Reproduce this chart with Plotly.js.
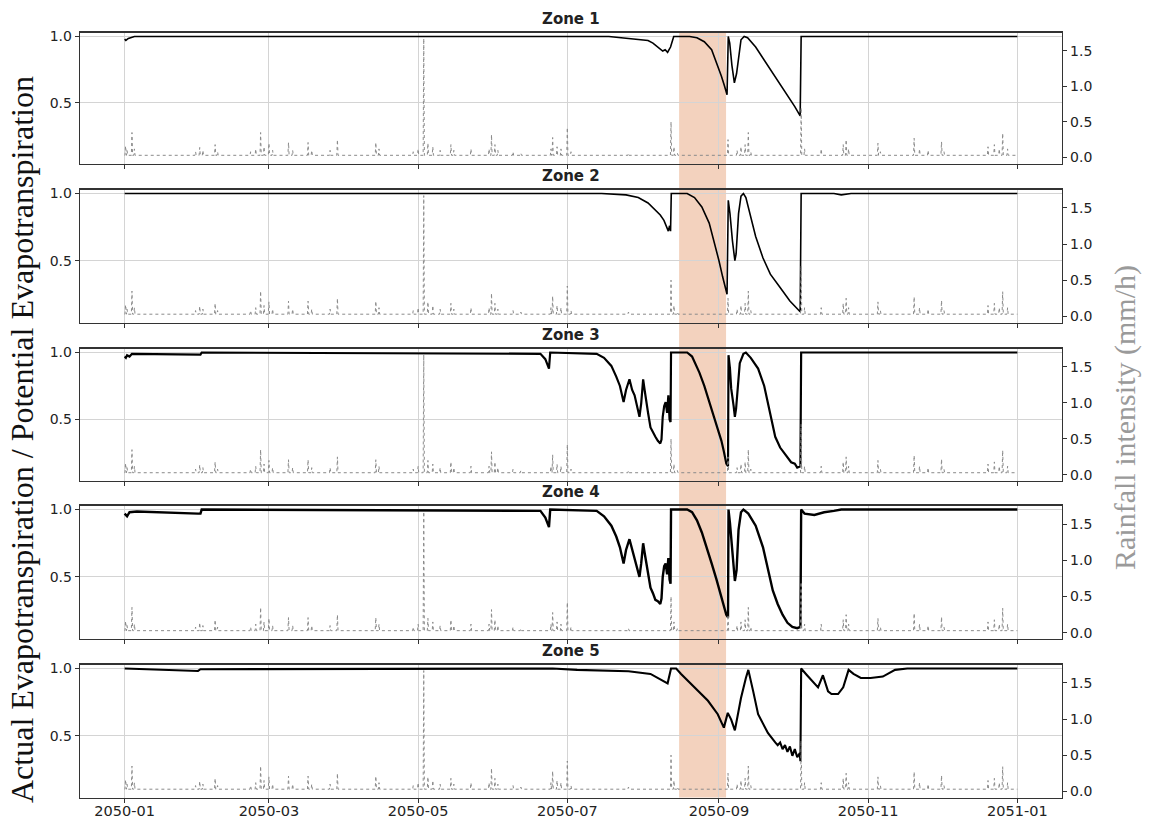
<!DOCTYPE html>
<html>
<head>
<meta charset="utf-8">
<script src="https://cdn.plot.ly/plotly-3.0.1.min.js"></script>
<style>html,body{margin:0;padding:0;background:#fff;}#chart{width:1149px;height:823px;}</style>
</head>
<body>
<div id="chart"></div>
<script>
// ---------- DATA (x values are days since 2050-01-01) ----------
const zoneNames = ["Zone 1", "Zone 2", "Zone 3", "Zone 4", "Zone 5"];
const tickLabels = ["2050-01", "2050-03", "2050-05", "2050-07", "2050-09", "2050-11", "2051-01"];
const tickDays = [0, 59, 120, 181, 243, 304, 365];

const zone1Days = [0, 0.5, 1.5, 2.5, 4, 60, 198, 203, 206, 211, 214, 216, 218, 220, 221, 222, 222.6, 223.2, 224.5, 231, 234, 237, 240, 242.5, 244, 245.2, 246.3, 246.8, 247.4, 248.3, 249.3, 250.2, 251, 252, 253.3, 254.7, 258, 263, 267, 271, 274, 276.2, 276.6, 300, 365];
const zone1Vals = [0.98, 0.97, 0.985, 0.99, 1.0, 1.0, 1.0, 0.99, 0.985, 0.975, 0.97, 0.95, 0.92, 0.89, 0.9, 0.88, 0.9, 0.92, 1.0, 1.0, 0.99, 0.96, 0.9, 0.78, 0.7, 0.63, 0.56, 1.0, 0.95, 0.78, 0.65, 0.72, 0.85, 0.975, 1.0, 0.99, 0.92, 0.78, 0.66, 0.55, 0.47, 0.4, 1.0, 1.0, 1.0];

const zone2Days = [0, 195, 205, 210, 214, 217, 219, 220.5, 221.5, 222.3, 222.8, 223.2, 223.5, 230, 233, 236, 239, 241, 243, 244.5, 245.5, 246.3, 246.8, 247.5, 248.5, 249.5, 250, 251, 252, 253, 254, 256, 258, 261, 264, 268, 272, 276.2, 276.6, 290, 293, 297, 365];
const zone2Vals = [1.0, 1.0, 0.99, 0.97, 0.93, 0.88, 0.84, 0.8, 0.75, 0.72, 0.76, 0.72, 1.0, 1.0, 0.97, 0.9, 0.78, 0.65, 0.5, 0.38, 0.3, 0.25, 0.95, 0.85, 0.65, 0.5, 0.55, 0.85, 0.98, 1.0, 0.97, 0.82, 0.68, 0.52, 0.4, 0.3, 0.2, 0.12, 1.0, 1.0, 0.99, 1.0, 1.0];

const zone3Days = [0, 0.5, 1, 2, 3, 5, 31, 31.5, 170, 172, 173.5, 174, 193, 196, 199, 201, 202.5, 204, 205, 206.4, 207.5, 208.5, 209.5, 210.5, 211.2, 212, 212.6, 213.3, 214, 215, 216, 217, 218, 219, 219.5, 220, 220.6, 221.2, 221.8, 222.3, 222.8, 223.2, 223.4, 230, 232, 233, 235, 237, 239, 241, 242.5, 244, 245, 246, 246.7, 246.9, 247.5, 248, 249, 249.5, 250, 251, 251.5, 253, 254, 256, 259, 261.5, 264, 266, 268, 270, 271, 272.5, 274, 275, 276.3, 276.6, 365];
const zone3Vals = [0.97, 0.96, 0.98, 0.97, 0.99, 0.99, 0.985, 1.0, 0.99, 0.95, 0.88, 1.0, 0.99, 0.96, 0.9, 0.82, 0.75, 0.63, 0.72, 0.8, 0.72, 0.68, 0.6, 0.52, 0.62, 0.8, 0.72, 0.65, 0.55, 0.44, 0.4, 0.37, 0.34, 0.32, 0.35, 0.52, 0.6, 0.63, 0.55, 0.68, 0.5, 0.48, 1.0, 1.0, 0.97, 0.93, 0.85, 0.75, 0.63, 0.52, 0.43, 0.34, 0.26, 0.17, 0.15, 0.98, 0.88, 0.73, 0.6, 0.52, 0.58, 0.8, 0.92, 0.99, 1.0, 0.96, 0.88, 0.75, 0.55, 0.37, 0.29, 0.24, 0.21, 0.18, 0.17, 0.14, 0.15, 1.0, 1.0];

const zone4Days = [0, 1, 2, 5, 30, 31, 31.5, 170, 172, 173.5, 174, 193, 196, 199, 201, 202.5, 204, 205, 206.4, 207.5, 208.5, 209.5, 210.5, 211.2, 212, 212.6, 213.3, 214, 215, 216, 217, 218, 219, 219.5, 220, 220.6, 221.2, 221.8, 222.3, 222.8, 223.2, 223.4, 230, 232, 234, 236, 238, 240, 242, 243.5, 245, 246, 246.7, 246.9, 247.5, 248.5, 249.5, 250.2, 251, 252, 253, 255, 258, 261, 263, 265, 267, 269, 271, 273, 275, 276.3, 276.6, 278, 282, 286, 290, 293, 365];
const zone4Vals = [0.97, 0.95, 0.98, 0.985, 0.97, 0.97, 1.0, 0.99, 0.94, 0.87, 1.0, 0.99, 0.95, 0.88, 0.8, 0.72, 0.6, 0.7, 0.78, 0.7, 0.64, 0.56, 0.5, 0.6, 0.75, 0.68, 0.6, 0.5, 0.42, 0.38, 0.33, 0.32, 0.3, 0.34, 0.5, 0.58, 0.6, 0.52, 0.64, 0.48, 0.45, 1.0, 1.0, 0.98, 0.92, 0.83, 0.72, 0.6, 0.48, 0.38, 0.28, 0.22, 0.2, 1.0, 0.9, 0.7, 0.47, 0.55, 0.85, 0.98, 1.0, 0.97, 0.88, 0.72, 0.55, 0.4, 0.3, 0.22, 0.16, 0.13, 0.12, 0.13, 1.0, 0.97, 0.96, 0.98, 0.99, 1.0, 1.0];

const zone5Days = [0, 20, 30, 31, 60, 120, 175, 185, 206, 215, 219, 222, 223.4, 225.5, 227.5, 233, 238.5, 242.5, 245, 246.6, 248, 249.5, 252, 254, 255, 257, 259, 263, 265, 266, 267, 268, 269, 270, 271, 272, 273, 274, 275, 276, 276.3, 276.6, 279, 283.5, 285.5, 287.6, 289, 291.7, 293.8, 296, 298, 301, 305, 310, 315, 320, 365];
const zone5Vals = [1.0, 0.99, 0.982, 0.995, 0.997, 1.0, 1.0, 0.99, 0.98, 0.96, 0.92, 0.89, 1.0, 1.0, 0.96, 0.86, 0.76, 0.66, 0.56, 0.67, 0.62, 0.54, 0.78, 0.93, 0.99, 0.83, 0.66, 0.52, 0.47, 0.45, 0.43, 0.45, 0.4, 0.43, 0.38, 0.42, 0.35, 0.4, 0.34, 0.37, 0.31, 1.0, 0.95, 0.86, 0.95, 0.83, 0.81, 0.81, 0.86, 0.99, 0.96, 0.93, 0.93, 0.94, 0.99, 1.0, 1.0];

// rainfall spikes (mm/h), same series drawn in every zone
const rainBase = 0.03;
const rainDays = [0.4, 1, 3, 4, 29, 30.7, 32, 37, 38, 51.5, 53.6, 55.6, 57, 59, 60.5, 67, 68.7, 75, 76.5, 84, 87, 102.7, 104, 118, 120, 122.3, 124, 126, 129, 133.4, 134.6, 141.6, 149, 150, 151.4, 152.6, 158.8, 162, 174.3, 175, 176.8, 178.4, 181, 182.5, 206, 223.4, 224.6, 226, 246.7, 250.4, 252, 253.7, 255, 256, 276.6, 278, 284.8, 293.8, 295, 296, 308, 309, 322.8, 325, 328.5, 334, 335, 353, 355.6, 357.6, 359, 361];
const rainVals = [0.16, 0.1, 0.35, 0.12, 0.08, 0.14, 0.1, 0.18, 0.08, 0.08, 0.12, 0.35, 0.15, 0.2, 0.1, 0.21, 0.1, 0.21, 0.1, 0.1, 0.25, 0.21, 0.12, 0.08, 0.12, 1.67, 0.2, 0.15, 0.1, 0.18, 0.1, 0.12, 0.12, 0.32, 0.18, 0.1, 0.08, 0.06, 0.12, 0.28, 0.15, 0.12, 0.42, 0.08, 0.06, 0.5, 0.15, 0.06, 0.25, 0.1, 0.15, 0.18, 0.35, 0.08, 0.7, 0.12, 0.12, 0.18, 0.25, 0.12, 0.2, 0.08, 0.27, 0.12, 0.1, 0.22, 0.08, 0.15, 0.18, 0.12, 0.34, 0.12];

const shadeStartDay = 226.7, shadeEndDay = 245.9;

// ---------- BUILD ----------
const T0 = Date.UTC(2050, 0, 1), DAY = 86400000;
const toMs = d => T0 + d * DAY;

const rx = [toMs(0)], ry = [rainBase];
rainDays.forEach((d, i) => {
  rx.push(toMs(d - 0.25), toMs(d), toMs(d + 0.25));
  ry.push(rainBase, rainVals[i], rainBase);
});
rx.push(toMs(365)); ry.push(rainBase);

const zoneDays = [zone1Days, zone2Days, zone3Days, zone4Days, zone5Days];
const zoneVals = [zone1Vals, zone2Vals, zone3Vals, zone4Vals, zone5Vals];
const lineWidths = [1.6, 1.6, 2.2, 2.4, 2.1];

const H = 823;
const panelPx = [[32.5, 163.5], [189.5, 322.5], [348.5, 481], [505.5, 639], [664.5, 797.5]];

const traces = [];
const layout = {
  width: 1149, height: 823,
  margin: {l: 80, r: 87, t: 0, b: 0},
  paper_bgcolor: '#ffffff', plot_bgcolor: 'rgba(0,0,0,0)',
  showlegend: false,
  font: {family: 'DejaVu Sans', size: 14, color: '#222'},
  shapes: [], annotations: []
};

const xr = [toMs(-18.25), toMs(383.25)];
for (let k = 0; k < 5; k++) {
  const n = k + 1, nr = k + 6;
  const sfx = n === 1 ? '' : String(n);
  const dom = [1 - panelPx[k][1] / H, 1 - panelPx[k][0] / H];
  traces.push({
    type: 'scatter', mode: 'lines',
    x: rx, y: ry,
    xaxis: 'x' + sfx, yaxis: 'y' + nr,
    line: {color: '#8a8a8a', width: 1, dash: '3px,3px'},
    hoverinfo: 'skip'
  });
  traces.push({
    type: 'scatter', mode: 'lines',
    x: zoneDays[k].map(toMs), y: zoneVals[k],
    xaxis: 'x' + sfx, yaxis: 'y' + sfx,
    line: {color: '#000000', width: lineWidths[k]}
  });
  const xa = {
    type: 'date', domain: [0, 1], range: xr, anchor: 'y' + sfx,
    tickvals: tickDays.map(toMs), ticktext: tickLabels,
    showticklabels: k === 4, ticks: 'outside', ticklen: 4, tickcolor: '#333',
    ticklabelstandoff: -4,
    showgrid: true, gridcolor: '#d4d4d4', gridwidth: 1,
    showline: true, mirror: true, linecolor: '#333', linewidth: 1.3,
    zeroline: false, automargin: false, tickfont: {size: 14.5, color: '#222'}
  };
  if (n > 1) xa.matches = 'x';
  layout['xaxis' + sfx] = xa;
  layout['yaxis' + sfx] = {
    domain: dom, range: [0.04, 1.03], anchor: 'x' + sfx,
    tickvals: [0.5, 1.0], ticktext: ['0.5', '1.0'],
    ticks: 'outside', ticklen: 4, tickcolor: '#333',
    showgrid: true, gridcolor: '#d4d4d4', gridwidth: 1,
    showline: true, mirror: true, linecolor: '#333', linewidth: 1.3,
    zeroline: false, automargin: false, tickfont: {size: 14, color: '#222'}
  };
  layout['yaxis' + nr] = {
    domain: dom, range: [-0.085, 1.755], anchor: 'x' + sfx,
    overlaying: 'y' + sfx, side: 'right',
    tickvals: [0, 0.5, 1.0, 1.5], ticktext: ['0.0', '0.5', '1.0', '1.5'],
    ticks: 'outside', ticklen: 4, tickcolor: '#333',
    showgrid: false, showline: true, linecolor: '#333', linewidth: 1.3,
    zeroline: false, automargin: false, tickfont: {size: 14, color: '#222'}
  };
  layout.annotations.push({
    xref: 'paper', yref: 'paper', x: 0.5, y: 1 - (panelPx[k][0] - 13.5) / H,
    text: '<b>' + zoneNames[k] + '</b>', showarrow: false,
    xanchor: 'center', yanchor: 'middle',
    font: {family: 'DejaVu Sans', size: 15, color: '#222'}
  });
}

layout.shapes.push({
  type: 'rect', xref: 'x', yref: 'paper', layer: 'below',
  x0: toMs(shadeStartDay), x1: toMs(shadeEndDay),
  y0: 1 - panelPx[4][1] / H, y1: 1 - panelPx[0][0] / H,
  fillcolor: 'rgb(243,210,190)', line: {width: 0}
});

layout.annotations.push({
  xref: 'paper', yref: 'paper', x: (22 - 80) / 982, y: 1 - 440 / H,
  text: 'Actual Evapotranspiration / Potential Evapotranspiration',
  textangle: -90, showarrow: false, xanchor: 'center', yanchor: 'middle',
  font: {family: 'Liberation Serif', size: 32, color: '#111'}
});
layout.annotations.push({
  xref: 'paper', yref: 'paper', x: (1125 - 80) / 982, y: 1 - 418 / H,
  text: 'Rainfall intensity (mm/h)',
  textangle: -90, showarrow: false, xanchor: 'center', yanchor: 'middle',
  font: {family: 'Liberation Serif', size: 30, color: '#9a9a9a'}
});

Plotly.newPlot('chart', traces, layout, {staticPlot: true, displayModeBar: false});
</script>
</body>
</html>
